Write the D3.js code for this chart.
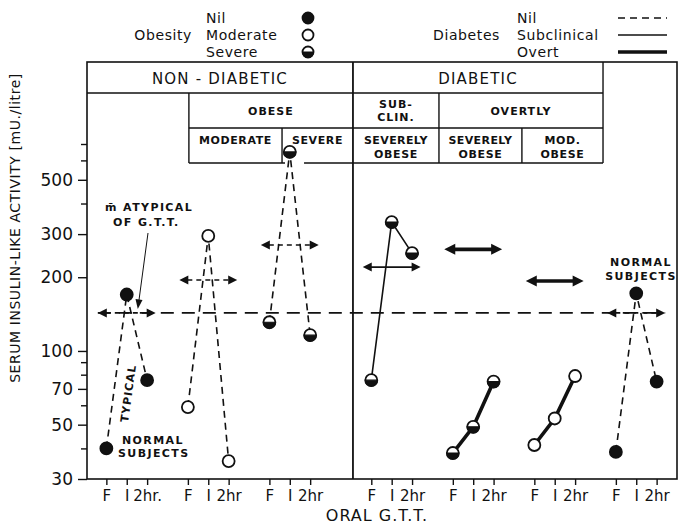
<!DOCTYPE html>
<html>
<head>
<meta charset="utf-8">
<script src="https://cdn.jsdelivr.net/npm/d3@7"></script>
<style>
  body { margin: 0; background: #fff; }
  svg { display: block; }
  text { font-family: "DejaVu Sans", sans-serif; fill: #111; }
</style>
</head>
<body>
<svg id="chart" width="680" height="527"></svg>
<script>
// groups of subjects, left to right
const groupNames = ['Normal (non-diabetic)', 'Moderate obese', 'Severe obese',
  'Subclinical, severely obese', 'Overt, severely obese', 'Overt, mod. obese', 'Normal subjects']
const stageLabels = ['F', 'I', '2hr']
const xTickLabels = ['F', 'I', '2hr.', 'F', 'I', '2hr', 'F', 'I', '2hr', 'F', 'I', '2hr',
  'F', 'I', '2hr', 'F', 'I', '2hr', 'F', 'I', '2hr']
const obesityLevel = ['nil', 'moderate', 'severe', 'severe', 'severe', 'moderate', 'nil']
const diabetesLevel = ['nil', 'nil', 'nil', 'subclinical', 'overt', 'overt', 'nil']

// serum insulin-like activity, mU/litre
const fastingValues = [40, 59, 131, 76, 38.3, 41.3, 38.7]
const oneHourValues = [170, 295, 650, 336, 49, 53, 172]
const twoHourValues = [76, 35.5, 116, 251, 75, 79, 75]
const meanValues = [143, 195, 271, 220, 260, 193, 143]
const normalMean = 143

const yTickValues = [30, 40, 50, 60, 70, 80, 90, 100, 200, 300, 400, 500, 600, 700]
const yLabelValues = [30, 50, 70, 100, 200, 300, 500]

const svg = d3.select('#chart')
const frame = { left: 87, right: 677, top: 62, bottom: 479 }

const x = d3.scaleLinear().domain([-0.95, 28]).range([frame.left, frame.right])
const y = d3.scaleLog().domain([30, 700]).range([479, 144])

// each group takes 3 slots, a gap of one, an extra slot at the diabetic divider
const groupStart = groupNames.map((g, i) => i * 4 + (i >= 3 ? 1 : 0))
const stageValues = [fastingValues, oneHourValues, twoHourValues]
const series = groupNames.map((name, i) => ({
  name,
  obesity: obesityLevel[i],
  diabetes: diabetesLevel[i],
  points: stageLabels.map((s, j) => ({ unit: groupStart[i] + j, value: stageValues[j][i] }))
}))
const tickUnits = series.flatMap(s => s.points.map(p => p.unit))

const lineStyle = {
  nil: { width: 1.6, dash: '7,5' },
  subclinical: { width: 1.6, dash: null },
  overt: { width: 3.6, dash: null }
}

// ---- frame & header boxes
const ink = '#111'
const hline = (x1, x2, yy, w = 1.4) => svg.append('line')
  .attr('x1', x1).attr('x2', x2).attr('y1', yy).attr('y2', yy)
  .attr('stroke', ink).attr('stroke-width', w)
const vline = (xx, y1, y2, w = 1.4) => svg.append('line')
  .attr('x1', xx).attr('x2', xx).attr('y1', y1).attr('y2', y2)
  .attr('stroke', ink).attr('stroke-width', w)

svg.append('rect')
  .attr('x', frame.left).attr('y', frame.top)
  .attr('width', frame.right - frame.left).attr('height', frame.bottom - frame.top)
  .attr('fill', 'none').attr('stroke', ink).attr('stroke-width', 1.6)

const xDivider = x(12.1)
const xObese = x(4.05)
const xSevere = x(8.62)
const xOvert = x(16.32)
const xModObese = x(20.39)
const xDiabEnd = x(24.37)
const row = [62, 93, 128, 163]

vline(xDivider, frame.top, frame.bottom, 1.8)
hline(frame.left, xDiabEnd, row[1])
vline(xDiabEnd, row[0], row[3])
vline(xObese, row[1], row[3])
hline(xObese, xDiabEnd, row[2])
hline(xObese, xSevere + 3, row[3])
hline(xSevere + 22, xDiabEnd, row[3])
vline(xOvert, row[1], row[3])
vline(xSevere, row[2], row[3])
vline(xModObese, row[2], row[3])

const headerText = (tx, ty, str, size, weight, spacing) => svg.append('text')
  .attr('x', tx).attr('y', ty).attr('text-anchor', 'middle')
  .style('font-size', size + 'px').style('font-weight', weight)
  .style('letter-spacing', spacing + 'px').text(str)

headerText((frame.left + xDivider) / 2, 84, 'NON - DIABETIC', 15, 'normal', 1.2)
headerText((xDivider + xDiabEnd) / 2, 84, 'DIABETIC', 15, 'normal', 1.2)
headerText((xObese + xDivider) / 2, 115, 'OBESE', 11, 'bold', 1)
headerText((xDivider + xOvert) / 2, 108, 'SUB-', 11, 'bold', 1)
headerText((xDivider + xOvert) / 2, 121, 'CLIN.', 11, 'bold', 1)
headerText((xOvert + xDiabEnd) / 2, 115, 'OVERTLY', 11, 'bold', 1)
headerText((xObese + xSevere) / 2, 144, 'MODERATE', 11, 'bold', 0.6)
headerText((xSevere + xDivider) / 2, 144, 'SEVERE', 11, 'bold', 0.6)
headerText((xDivider + xOvert) / 2, 144, 'SEVERELY', 11, 'bold', 0.4)
headerText((xDivider + xOvert) / 2, 158, 'OBESE', 11, 'bold', 0.6)
headerText((xOvert + xModObese) / 2, 144, 'SEVERELY', 11, 'bold', 0.4)
headerText((xOvert + xModObese) / 2, 158, 'OBESE', 11, 'bold', 0.6)
headerText((xModObese + xDiabEnd) / 2, 144, 'MOD.', 11, 'bold', 0.6)
headerText((xModObese + xDiabEnd) / 2, 158, 'OBESE', 11, 'bold', 0.6)

// ---- axes
const yAxis = svg.append('g')
  .attr('transform', `translate(${frame.left},0)`)
  .call(d3.axisLeft(y).tickValues(yTickValues)
    .tickFormat(d => yLabelValues.includes(d) ? d : '')
    .tickSize(8).tickPadding(6))
yAxis.select('.domain').remove()
yAxis.selectAll('.tick line').attr('stroke', ink).attr('stroke-width', 1.4)
  .attr('x2', d => yLabelValues.includes(d) ? -9 : -6)
yAxis.selectAll('.tick text')
  .style('font-size', '17px').style('font-family', '"DejaVu Sans", sans-serif').attr('fill', ink)

const xAxis = svg.append('g')
  .attr('transform', `translate(0,${frame.bottom})`)
  .call(d3.axisBottom(x).tickValues(tickUnits)
    .tickFormat((d, i) => xTickLabels[i]).tickSize(6).tickPadding(5))
xAxis.select('.domain').remove()
xAxis.selectAll('.tick line').attr('stroke', ink).attr('stroke-width', 1.4)
xAxis.selectAll('.tick text')
  .style('font-size', '15px').style('font-family', '"DejaVu Sans", sans-serif').attr('fill', ink)

svg.append('text')
  .attr('transform', 'translate(20,228) rotate(-90)')
  .attr('text-anchor', 'middle')
  .style('font-size', '14px').style('letter-spacing', '0.55px')
  .text('SERUM INSULIN-LIKE ACTIVITY [mU./litre]')

svg.append('text')
  .attr('x', 377).attr('y', 521).attr('text-anchor', 'middle')
  .style('font-size', '16px').style('letter-spacing', '1px')
  .text('ORAL G.T.T.')

// ---- normal mean reference line
const arrowHalf = 1.42
svg.append('line')
  .attr('x1', x(groupStart[0] + 1 - arrowHalf)).attr('x2', x(groupStart[6] + 1 + arrowHalf))
  .attr('y1', y(normalMean)).attr('y2', y(normalMean))
  .attr('stroke', ink).attr('stroke-width', 1.6).attr('stroke-dasharray', '13,8')

// ---- mean arrows
const arrows = svg.append('g')
series.forEach((s, i) => {
  const cx = groupStart[i] + 1
  const x1 = x(cx - arrowHalf), x2 = x(cx + arrowHalf), yy = y(meanValues[i])
  const thick = s.diabetes === 'overt'
  const hl = thick ? 11 : 9, hw = thick ? 5.5 : 4.5
  arrows.append('line')
    .attr('x1', x1 + hl - 1).attr('x2', x2 - hl + 1).attr('y1', yy).attr('y2', yy)
    .attr('stroke', ink).attr('stroke-width', thick ? 3.6 : 1.6)
    .attr('stroke-dasharray', s.diabetes === 'nil' ? '5,4' : null)
  arrows.append('path')
    .attr('d', `M${x1},${yy}L${x1 + hl},${yy - hw}L${x1 + hl},${yy + hw}Z`
      + `M${x2},${yy}L${x2 - hl},${yy - hw}L${x2 - hl},${yy + hw}Z`)
    .attr('fill', ink)
})

// ---- connecting lines
const line = d3.line().x(d => x(d.unit)).y(d => y(d.value))
svg.append('g').selectAll('path')
  .data(series)
  .join('path')
  .attr('d', d => line(d.points))
  .attr('fill', 'none')
  .attr('stroke', ink)
  .attr('stroke-width', d => lineStyle[d.diabetes].width)
  .attr('stroke-dasharray', d => lineStyle[d.diabetes].dash)

// ---- markers
function drawMarker(g, cx, cy, kind, r = 6) {
  g.append('circle').attr('cx', cx).attr('cy', cy).attr('r', r)
    .attr('fill', kind === 'nil' ? ink : '#fff')
    .attr('stroke', ink).attr('stroke-width', 1.8)
  if (kind === 'severe') {
    g.append('path')
      .attr('d', `M${cx - r},${cy}A${r},${r} 0 0 0 ${cx + r},${cy}Z`)
      .attr('fill', ink).attr('stroke', ink).attr('stroke-width', 1.2)
  }
}
const markers = svg.append('g')
series.forEach(s => s.points.forEach(p => drawMarker(markers, x(p.unit), y(p.value), s.obesity)))

// ---- annotations
const note = (tx, ty, str, anchor = 'start', spacing = 1.4) => svg.append('text')
  .attr('x', tx).attr('y', ty).attr('text-anchor', anchor)
  .style('font-size', '11px').style('font-weight', 'bold')
  .style('letter-spacing', spacing + 'px').text(str)

note(105, 211, 'm\u0304 ATYPICAL')
note(113, 226, 'OF G.T.T.')
note(122, 444, 'NORMAL')
note(118, 457, 'SUBJECTS')
note(641, 266, 'NORMAL', 'middle')
note(641, 280, 'SUBJECTS', 'middle')
svg.append('text')
  .attr('transform', 'translate(132,394) rotate(-82)')
  .attr('text-anchor', 'middle')
  .style('font-size', '11px').style('font-weight', 'bold').style('letter-spacing', '1px')
  .text('TYPICAL')

svg.append('line')
  .attr('x1', 148).attr('y1', 233).attr('x2', 139).attr('y2', 300)
  .attr('stroke', ink).attr('stroke-width', 1)
svg.append('path')
  .attr('d', 'M137.8,309L135.5,299L142.5,300Z').attr('fill', ink)

// ---- legends
const legendText = (tx, ty, str, anchor = 'start') => svg.append('text')
  .attr('x', tx).attr('y', ty).attr('text-anchor', anchor)
  .style('font-size', '14px').style('letter-spacing', '0.6px').text(str)

const obesityKeys = ['nil', 'moderate', 'severe']
const obesityNames = ['Nil', 'Moderate', 'Severe']
const diabetesKeys = ['nil', 'subclinical', 'overt']
const diabetesNames = ['Nil', 'Subclinical', 'Overt']
const legendRows = [18, 35, 52]

legendText(192, legendRows[1] + 5, 'Obesity', 'end')
obesityKeys.forEach((k, i) => {
  legendText(206, legendRows[i] + 5, obesityNames[i])
  drawMarker(svg.append('g'), 308, legendRows[i], k, 5.5)
})
legendText(500, legendRows[1] + 5, 'Diabetes', 'end')
diabetesKeys.forEach((k, i) => {
  legendText(517, legendRows[i] + 5, diabetesNames[i])
  svg.append('line')
    .attr('x1', 618).attr('x2', 667).attr('y1', legendRows[i]).attr('y2', legendRows[i])
    .attr('stroke', ink).attr('stroke-width', lineStyle[k].width)
    .attr('stroke-dasharray', k === 'nil' ? '7,5' : null)
})
</script>
</body>
</html>
